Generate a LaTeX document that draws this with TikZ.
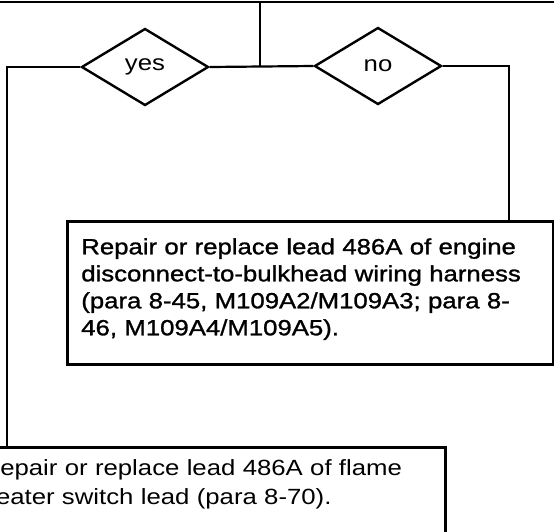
\documentclass[tikz,border=0pt]{standalone}
\usepackage{fontspec}
\usetikzlibrary{shapes.geometric}
\newfontfamily\labfont[FakeStretch=1.17]{Liberation Sans}
\newfontfamily\labfontb[FakeStretch=1.17,FakeBold=1.2]{Liberation Sans}
\tikzset{
  conn/.style={line width=2.2pt},
  dia/.style={shape=diamond, draw, line width=2.4pt, minimum width=127pt, minimum height=77pt, inner sep=0pt, aspect=1.65, font=\labfont\fontsize{22}{26}\selectfont},
  stepbox/.style={draw, line width=2.6pt, align=left, inner xsep=14pt}
}
\begin{document}
\begin{tikzpicture}[x=1pt,y=-1pt]
\clip (0,0) rectangle (554,531);
\fill[white] (0,0) rectangle (554,531);
\coordinate (tl) at (0,2);
\coordinate (tr) at (554,2);
\coordinate (top) at (260,2);
\node[dia] (yes) at (145,67) {yes};
\node[dia] (no) at (378,66) {no};
\node[stepbox, anchor=north west, text width=458pt, text height=16pt, text depth=93pt, inner ysep=17pt,
      font=\labfontb\fontsize{22}{27}\selectfont] (b1) at (66,220)
  {Repair or replace lead 486A of engine\\disconnect-to-bulkhead wiring harness\\(para 8-45, M109A2/M109A3; para 8-\\46, M109A4/M109A5).};
\node[stepbox, anchor=north east, text width=441pt, text height=16pt, text depth=80pt, inner ysep=12pt, inner xsep=23pt,
      font=\labfont\fontsize{22}{29.5}\selectfont] (b2) at (447,446)
  {Repair or replace lead 486A of flame\\heater switch lead (para 8-70).};
\coordinate (lc) at (7,446);
\coordinate (rc) at (509,220);
\draw[line width=2.6pt] (tl) -- (tr);
\draw[conn] (top) -- (top |- yes.east);
\draw[conn] (yes.east) -- (no.west);
\draw[conn] (yes.west) -| (lc);
\draw[conn] (no.east) -| (rc);
\end{tikzpicture}
\end{document}
